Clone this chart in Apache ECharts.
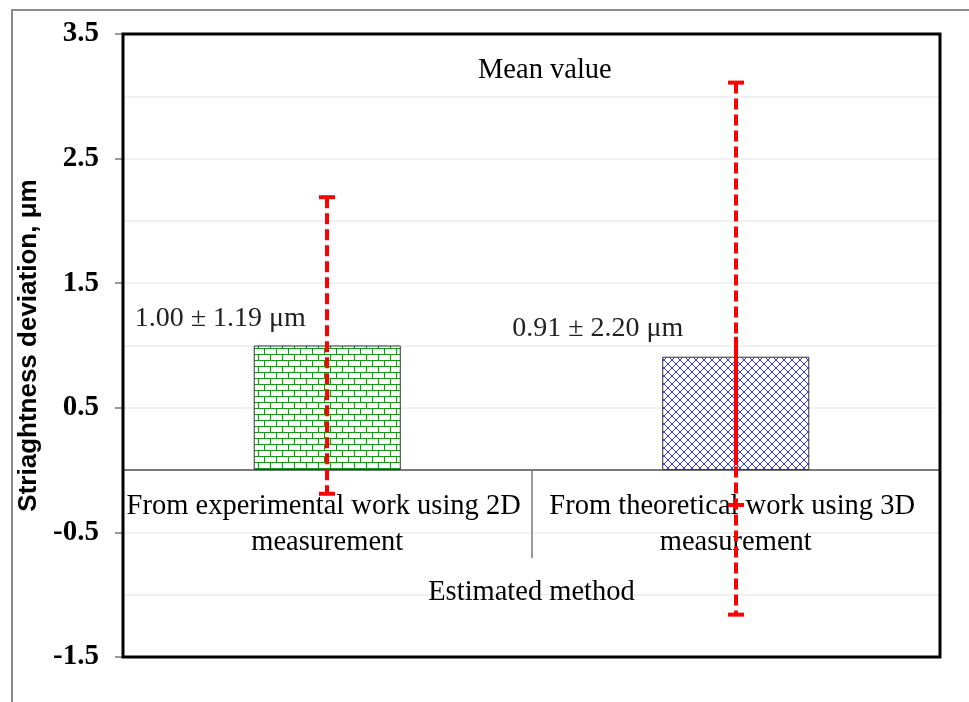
<!DOCTYPE html>
<html>
<head>
<meta charset="utf-8">
<script src="https://cdn.jsdelivr.net/npm/echarts@6/dist/echarts.min.js"></script>
<style>html,body{margin:0;padding:0;background:#fff;}#chart{width:969px;height:702px;}</style>
</head>
<body>
<div id="chart"></div>
<script>
// ---- data ----
const categories = ['From experimental work using 2D measurement', 'From theoretical work using 3D measurement'];
const meanValues = [1.00, 0.91];
const stdDevs = [1.19, 2.20];
const errUpper = [2.19, 3.11];
const errLower = [-0.19, -1.16];
const extraCap = [null, -0.28];
const solidLow = [null, 0.04];
const solidHigh = [null, 1.07];
const yMin = -1.5, yMax = 3.5, yStep = 1;
const chartTitle = 'Mean value';
const xAxisName = 'Estimated method';
const yAxisName = 'Striaghtness deviation, μm';

// ---- patterns ----
function brickPattern() {
  const c = document.createElement('canvas');
  c.width = 12; c.height = 12;
  const g = c.getContext('2d');
  g.fillStyle = '#fff'; g.fillRect(0, 0, 12, 12);
  g.strokeStyle = '#139a13'; g.lineWidth = 1.2;
  g.beginPath();
  g.moveTo(0, 0.5); g.lineTo(12, 0.5);
  g.moveTo(0, 6.5); g.lineTo(12, 6.5);
  g.moveTo(0.5, 0); g.lineTo(0.5, 6.5);
  g.moveTo(6.5, 6.5); g.lineTo(6.5, 12);
  g.stroke();
  return c;
}
function crossPattern() {
  const c = document.createElement('canvas');
  c.width = 8; c.height = 8;
  const g = c.getContext('2d');
  g.fillStyle = '#fff'; g.fillRect(0, 0, 8, 8);
  g.strokeStyle = '#3a3aff'; g.lineWidth = 1;
  g.beginPath();
  g.moveTo(0, 0); g.lineTo(8, 8);
  g.moveTo(8, 0); g.lineTo(0, 8);
  g.stroke();
  return c;
}
const fills = [
  { image: brickPattern(), repeat: 'repeat' },
  { image: crossPattern(), repeat: 'repeat' }
];
const labelOffsets = [[-107, -13], [-138, -14]];

const chart = echarts.init(document.getElementById('chart'), null, { renderer: 'canvas' });

const serif = '"Liberation Serif", "Times New Roman", serif';

const option = {
  backgroundColor: '#fff',
  animation: false,
  title: {
    text: chartTitle,
    left: 478, top: 56, padding: 0,
    textStyle: { fontFamily: serif, fontSize: 28.5, fontWeight: 'normal', color: '#000' }
  },
  graphic: [{
    type: 'rect', z: -1,
    shape: { x: 12, y: 10, width: 1000, height: 1000 },
    style: { fill: 'none', stroke: '#8c8c8c', lineWidth: 2 }
  }],
  grid: {
    left: 123, right: 29, top: 34, bottom: 45,
    containLabel: false,
    outerBoundsMode: 'none',
    z: 3,
    show: true, borderColor: '#000', borderWidth: 3, backgroundColor: 'transparent'
  },
  xAxis: {
    type: 'category',
    data: categories,
    position: 'bottom',
    offset: 0,
    z: 2,
    axisLine: { onZero: false, lineStyle: { color: '#7a7a7a', width: 2 } },
    axisTick: { show: true, interval: 0, length: 88, lineStyle: { color: '#7a7a7a', width: 1.5 } },
    axisLabel: {
      interval: 0, margin: 18, width: 405, overflow: 'break',
      fontFamily: serif, fontSize: 28.5, lineHeight: 36, color: '#000'
    },
    name: xAxisName,
    nameLocation: 'middle',
    nameGap: 108,
    nameTextStyle: { fontFamily: serif, fontSize: 28.5, color: '#000' },
    splitLine: { show: false }
  },
  yAxis: {
    type: 'value',
    min: yMin, max: yMax, interval: yStep,
    z: 1,
    axisLine: { show: true, lineStyle: { color: '#000', width: 2 } },
    axisTick: { show: true, length: 8, lineStyle: { color: '#7a7a7a', width: 1.5 } },
    minorTick: { show: false, splitNumber: 2 },
    minorSplitLine: { show: true, lineStyle: { color: '#ececec', width: 1.5 } },
    splitLine: { show: true, lineStyle: { color: '#ececec', width: 1.5 } },
    axisLabel: {
      margin: 24, fontFamily: serif, fontSize: 29, fontWeight: 'bold', color: '#000',
      formatter: v => v.toFixed(1)
    },
    name: yAxisName,
    nameLocation: 'middle',
    nameGap: 78,
    nameRotate: 90,
    nameTextStyle: { fontFamily: '"Liberation Sans", Arial, sans-serif', fontSize: 26, fontWeight: 'bold', color: '#000' }
  },
  series: [
    {
      type: 'bar',
      barWidth: '36%',
      data: meanValues.map((v, i) => ({
        value: v,
        itemStyle: { color: fills[i], borderColor: '#333', borderWidth: 1 },
        label: {
          show: true, position: 'top', distance: 0, offset: labelOffsets[i],
          formatter: () => meanValues[i].toFixed(2) + ' ± ' + stdDevs[i].toFixed(2) + ' μm',
          fontFamily: serif, fontSize: 28, color: '#222'
        }
      })),
      z: 2
    },
    {
      type: 'custom',
      z: 5,
      data: categories.map((c, i) => [i, errLower[i], errUpper[i],
        extraCap[i] == null ? NaN : extraCap[i],
        solidLow[i] == null ? NaN : solidLow[i],
        solidHigh[i] == null ? NaN : solidHigh[i]]),
      renderItem: function (params, api) {
        const idx = api.value(0);
        const lo = api.coord([idx, api.value(1)]);
        const hi = api.coord([idx, api.value(2)]);
        const x = Math.round(lo[0]);
        const red = '#ff0000';
        const capW = 8;
        const children = [
          { type: 'line', shape: { x1: x, y1: hi[1], x2: x, y2: lo[1] },
            style: { stroke: red, lineWidth: 4, lineDash: [11, 5] } },
          { type: 'line', shape: { x1: x - capW, y1: hi[1], x2: x + capW, y2: hi[1] },
            style: { stroke: red, lineWidth: 4 } },
          { type: 'line', shape: { x1: x - capW, y1: lo[1], x2: x + capW, y2: lo[1] },
            style: { stroke: red, lineWidth: 4 } }
        ];
        const ec = api.value(3);
        if (!isNaN(ec)) {
          const p = api.coord([idx, ec]);
          children.push({ type: 'line', shape: { x1: x - capW, y1: p[1], x2: x + capW, y2: p[1] },
            style: { stroke: red, lineWidth: 4 } });
        }
        const sl = api.value(4), sh = api.value(5);
        if (!isNaN(sl) && !isNaN(sh)) {
          const a = api.coord([idx, sl]), b = api.coord([idx, sh]);
          children.push({ type: 'line', shape: { x1: x, y1: a[1], x2: x, y2: b[1] },
            style: { stroke: red, lineWidth: 4 } });
        }
        return { type: 'group', children: children };
      }
    }
  ]
};
chart.setOption(option);
// move the category axis (line, ticks, labels, name) up to the zero line
const zeroY = chart.convertToPixel({ yAxisIndex: 0 }, 0);
const baseY = chart.convertToPixel({ yAxisIndex: 0 }, yMin);
chart.setOption({ xAxis: { offset: zeroY - baseY } });
</script>
</body>
</html>
